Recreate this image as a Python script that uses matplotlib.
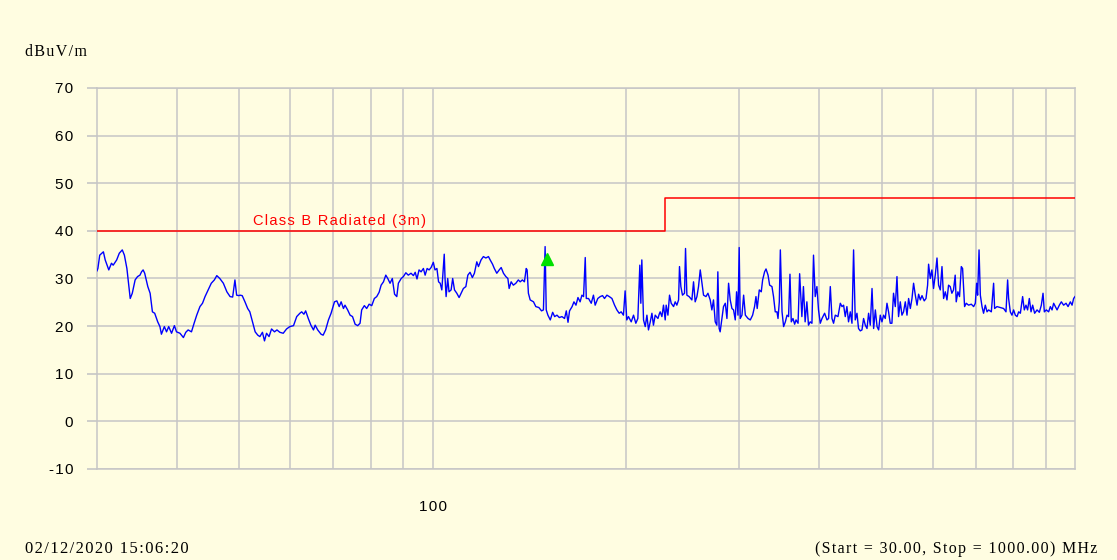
import matplotlib
matplotlib.use("Agg")
import matplotlib.pyplot as plt
from matplotlib.ticker import NullLocator

BG = "#FFFDE1"
GRID = "#C6C6C6"
SANS = ["Liberation Sans", "DejaVu Sans"]
SERIF = ["Liberation Serif", "DejaVu Serif"]

# scan trace (MHz, dBuV/m), in segments
freq_a = [30.0, 30.1, 30.3, 30.7, 30.9, 31.3, 31.6, 31.8, 32.2, 32.5,
          32.85, 33.1, 33.4, 33.8, 34.05, 34.4, 34.7, 35.0, 35.2, 35.4,
          35.6, 36.0, 36.3, 36.6, 36.9, 37.3, 37.6, 37.8, 38.2, 38.5,
          38.8, 39.2, 39.6, 39.9, 40.4, 40.9, 41.25, 41.6, 42.1, 42.5,
          42.9, 43.4, 43.8, 44.2, 44.7, 45.2, 45.7, 46.1, 46.6, 47.2,
          47.8, 48.35, 48.8, 49.2, 49.5, 49.9]
level_a = [31.6, 32.1, 34.9, 35.6, 33.9, 31.8, 33.2, 32.8, 33.9, 35.3,
           36.0, 34.9, 32.1, 25.8, 26.9, 29.7, 30.4, 30.7, 31.4, 31.8,
           31.1, 28.3, 26.9, 23.0, 22.7, 20.9, 19.9, 18.3, 19.9, 18.8,
           19.9, 18.5, 20.1, 18.8, 18.5, 17.6, 18.7, 19.2, 18.8, 20.6,
           22.3, 24.1, 24.8, 26.2, 27.6, 29.0, 29.7, 30.6, 30.0, 29.0,
           27.2, 26.2, 26.1, 29.7, 26.5, 26.4]

freq_b = [50.1, 50.5, 51.0, 51.5, 51.9, 52.4, 52.9, 53.4, 53.8, 54.3,
          54.7, 55.1, 55.6, 56.1, 56.7, 57.2, 57.8, 58.5, 59.2, 59.9,
          60.7, 61.4, 62.1, 62.5, 63.0, 63.4, 64.0, 64.6, 65.2, 65.6,
          66.2, 67.0, 67.5, 68.1, 68.8, 69.45, 70.3, 70.9, 71.5, 72.0,
          72.6, 73.0, 73.7, 74.35, 75.0, 75.7, 76.4, 77.05, 77.5, 78.25,
          78.9, 79.6, 80.35, 81.1, 81.8, 82.5]
level_b = [26.5, 26.4, 25.1, 23.7, 23.0, 20.9, 18.8, 18.1, 17.8, 18.7,
           16.9, 18.5, 17.8, 19.4, 18.8, 19.2, 18.7, 18.5, 19.4, 19.9,
           20.1, 22.0, 22.7, 23.0, 22.5, 23.2, 21.6, 20.2, 19.2, 20.2,
           19.2, 18.3, 18.1, 19.2, 21.3, 22.7, 25.1, 25.3, 24.1, 25.1,
           23.7, 24.4, 23.4, 22.3, 22.0, 20.4, 20.1, 20.6, 23.4, 24.3,
           23.7, 24.6, 24.3, 25.8, 26.2, 27.1]

freq_c = [83.1, 83.8, 84.5, 85.1, 85.8, 86.5, 87.2, 87.9, 88.4, 89.3,
          90.0, 90.8, 91.6, 92.5, 93.3, 93.9, 94.5, 95.2, 95.9, 96.7,
          97.3, 98.0, 98.7, 99.4, 100.2, 100.8, 101.5, 102.1, 102.7, 103.3,
          104.2, 104.5, 104.9, 105.5, 106.0, 106.8, 107.4, 108.1, 109.0, 109.9,
          110.7, 111.6, 112.6, 113.4, 114.3, 115.25, 116.1, 117.1, 117.8, 118.9,
          119.9, 120.95, 122.1, 122.85, 123.9, 124.7, 125.8, 126.9, 127.8, 128.85,
          129.95, 130.9, 131.5, 132.45, 133.5, 134.7, 135.9]
level_c = [28.6, 29.3, 30.7, 30.0, 29.0, 30.0, 26.7, 26.2, 29.0, 30.0,
           30.4, 31.2, 30.7, 31.1, 30.6, 31.3, 29.9, 31.8, 31.4, 32.1,
           30.7, 32.1, 31.8, 32.3, 33.4, 31.8, 32.1, 29.3, 29.0, 27.6,
           35.1, 30.0, 26.2, 30.0, 27.2, 27.6, 30.0, 27.6, 26.9, 26.0,
           26.9, 27.9, 28.3, 30.7, 31.3, 30.2, 31.1, 33.5, 32.5, 33.9,
           34.6, 34.3, 34.6, 33.9, 33.0, 32.1, 31.1, 31.8, 32.3, 31.1,
           30.4, 30.0, 27.9, 29.3, 28.6, 29.0, 29.7]

freq_d = [136.8, 137.9, 138.9, 139.8, 140.25, 140.9, 141.8, 143.5, 144.7, 146.3,
          147.7, 148.7, 149.6, 150.2, 151.1, 152.4, 153.7, 154.8, 156.1, 157.4,
          158.9, 160.4, 161.4, 162.4, 163.3, 164.8, 165.9, 167.1, 168.3, 169.6,
          170.7, 171.7, 172.75, 173.4, 174.8, 176.5, 177.9, 179.0, 180.7, 182.3,
          183.8, 185.1, 186.7, 188.3, 190.1, 191.9, 193.5, 195.1, 196.5, 198.1,
          199.3, 200.5, 201.7, 203.7, 205.4, 207.1, 208.6, 210.1, 210.85, 211.6,
          212.9, 214.2, 215.5, 216.7, 218.1, 219.4, 220.6, 222.0, 224.2, 225.2]
level_d = [29.3, 29.7, 29.3, 32.1, 31.8, 26.9, 25.5, 25.1, 24.1, 23.9,
           23.2, 23.4, 36.7, 23.4, 22.3, 21.3, 22.9, 22.0, 22.3, 21.8,
           22.0, 21.6, 23.2, 20.8, 23.2, 24.1, 25.1, 24.4, 26.0, 25.1,
           26.5, 26.2, 34.4, 25.8, 25.8, 24.8, 26.5, 24.4, 25.8, 26.2,
           26.4, 25.8, 26.5, 26.2, 25.8, 24.4, 23.4, 22.7, 23.0, 22.3,
           27.4, 21.3, 22.0, 20.9, 22.3, 20.6, 21.6, 32.8, 24.8, 33.9,
           21.3, 19.9, 22.3, 19.2, 20.9, 22.7, 20.2, 22.3, 21.6, 22.5]

freq_e = [226.0, 227.4, 228.7, 230.1, 230.9, 232.35, 233.7, 235.1, 237.1, 238.5,
          239.9, 241.4, 242.2, 243.4, 244.8, 246.6, 247.5, 248.7, 250.7, 253.2,
          254.7, 256.2, 257.8, 259.3, 260.9, 262.5, 264.0, 266.3, 268.2, 270.4,
          272.0, 273.6, 275.3, 276.9, 277.9, 279.2, 280.2, 282.0, 283.6, 285.4,
          287.1, 288.8, 290.5, 292.3, 294.0, 295.8, 297.2, 298.7, 300.0, 301.1,
          303.0, 304.8, 306.7, 309.7, 312.2, 314.8, 317.0, 318.6, 320.0, 322.4,
          324.7, 326.3, 328.6, 330.3, 332.7, 334.6, 337.4, 339.3, 341.4, 343.5,
          344.8, 346.4, 347.7, 349.8, 351.8, 354.0, 356.1, 358.1, 359.9, 361.6,
          363.8, 366.0, 367.8, 370.5, 372.6]
level_e = [23.0, 22.0, 24.4, 21.3, 24.4, 22.3, 26.5, 24.8, 24.1, 25.1,
           24.4, 25.5, 32.5, 28.3, 26.5, 26.9, 36.3, 26.5, 26.2, 25.5,
           29.3, 25.1, 26.2, 28.3, 31.8, 29.0, 26.5, 26.2, 26.9, 25.5,
           23.4, 25.5, 20.9, 20.2, 31.4, 19.5, 18.8, 21.6, 24.1, 24.8,
           21.6, 29.0, 25.5, 23.7, 23.4, 21.3, 27.2, 22.3, 36.5, 21.6,
           22.3, 26.5, 22.3, 21.6, 21.3, 22.3, 24.1, 26.2, 23.7, 27.6,
           27.2, 29.7, 31.4, 32.0, 30.7, 28.6, 28.3, 26.2, 23.0, 23.0,
           21.6, 25.1, 36.0, 23.0, 19.9, 20.9, 22.3, 22.0, 30.9, 20.9,
           21.6, 20.4, 21.3, 20.6, 31.0]

freq_f = [375.6, 377.7, 380.0, 382.4, 384.6, 387.0, 389.4, 391.6, 394.0, 396.4,
          398.7, 401.2, 403.7, 407.5, 411.0, 413.4, 415.9, 418.4, 420.8, 423.4,
          427.5, 431.1, 433.7, 436.2, 438.8, 441.4, 444.0, 446.8, 449.5, 452.1,
          454.8, 457.6, 460.2, 463.1, 465.9, 468.6, 471.5, 474.4, 477.1, 480.0,
          483.0, 485.8, 488.8, 491.8, 494.6, 497.5, 500.5, 503.5, 506.5, 509.6,
          512.5, 515.6, 518.7, 521.7, 525.0, 528.2, 531.2, 534.5, 537.7, 540.8,
          544.2, 547.5, 550.7, 554.1, 557.4, 560.6, 564.1, 567.6, 570.8, 574.3,
          577.8, 582.4, 586.1, 589.5, 591.6, 595.2, 598.7, 602.2, 605.9, 609.7,
          613.2]
level_f = [22.0, 28.3, 20.9, 25.1, 20.2, 20.9, 20.6, 34.9, 26.2, 28.3,
           23.4, 20.6, 21.6, 22.7, 21.3, 21.6, 28.3, 21.6, 20.6, 22.3,
           22.0, 24.8, 24.1, 24.4, 22.0, 24.1, 20.9, 23.0, 20.6, 36.0,
           21.3, 22.7, 19.5, 19.0, 19.2, 21.6, 20.2, 19.5, 22.7, 20.2,
           27.9, 19.5, 23.4, 19.9, 19.2, 22.3, 20.9, 22.3, 21.6, 24.8,
           23.0, 20.6, 20.6, 26.9, 24.1, 30.4, 22.0, 25.1, 22.3, 23.0,
           25.1, 22.3, 25.8, 23.7, 25.8, 29.0, 26.5, 24.4, 26.7, 25.5,
           26.4, 25.3, 25.8, 28.6, 33.0, 30.0, 31.8, 27.9, 30.7, 34.3,
           28.6]

freq_g = [616.9, 620.7, 624.3, 628.1, 631.9, 635.5, 639.3, 643.1, 646.9, 650.8,
          653.2, 657.2, 661.0, 665.2, 668.3, 673.1, 677.1, 682.8, 689.5, 695.3,
          699.5, 702.8, 705.3, 708.9, 712.2, 716.5, 720.5, 725.0, 729.5, 733.7,
          740.8, 746.9, 749.6, 756.0, 764.7, 774.2, 780.8, 785.4, 788.2, 793.0,
          797.7, 802.4, 807.4, 812.4, 817.1, 822.1, 828.8, 833.8, 838.8, 843.7,
          848.9, 854.2, 859.1, 865.3, 872.8, 880.0, 886.3, 891.7, 895.9, 902.3,
          909.8, 915.4, 921.0, 926.3, 932.0, 937.7, 945.4, 952.2, 960.0, 968.4,
          975.4, 983.5, 989.5, 995.1, 1000.0]
level_g = [27.6, 32.5, 25.8, 27.2, 25.5, 28.6, 28.3, 26.9, 27.6, 30.7,
           25.1, 27.2, 26.2, 32.5, 32.1, 24.1, 24.8, 24.4, 24.6, 24.1,
           24.8, 29.0, 26.5, 36.0, 26.5, 24.1, 22.7, 24.4, 23.0, 23.4,
           23.0, 29.0, 23.7, 24.1, 23.9, 23.7, 23.0, 29.7, 25.8, 23.0,
           22.3, 23.4, 22.3, 22.0, 23.0, 22.7, 26.2, 23.4, 24.4, 23.4,
           25.8, 23.0, 24.4, 22.7, 23.4, 22.9, 24.4, 26.9, 23.0, 23.4,
           23.0, 24.1, 23.4, 24.8, 24.1, 23.4, 24.4, 25.1, 24.4, 24.8,
           24.1, 25.1, 24.4, 25.8, 26.2]

# Class B radiated limit (3 m)
limit_freq = [30, 230, 230, 1000]
limit_level = [40, 40, 47, 47]

# peak marker
marker_freq = [150.5]
marker_level = [34.1]

y_ticks = [-10, 0, 10, 20, 30, 40, 50, 60, 70]
y_tick_labels = ["-10", "0", "10", "20", "30", "40", "50", "60", "70"]
x_grid = [40, 50, 60, 70, 80, 90, 100, 200, 300, 400, 500, 600, 700, 800, 900]
x_tick_labels = ["" if f != 100 else "100" for f in x_grid]

unit_label = "dBuV/m"
limit_label = "Class B Radiated (3m)"
date_label = "02/12/2020 15:06:20"
range_label = "(Start = 30.00, Stop = 1000.00) MHz"


def spaced(s):
    # the analyser prints its text with a little letter spacing
    return "\u200a".join(s)


freq = freq_a + freq_b + freq_c + freq_d + freq_e + freq_f + freq_g
level = level_a + level_b + level_c + level_d + level_e + level_f + level_g

fig = plt.figure(figsize=(11.17, 5.60), dpi=100, facecolor=BG)
ax = fig.add_axes([0.0868, 0.1625, 0.8756, 0.6804])
ax.set_facecolor(BG)

ax.plot(freq, level, color="#0000FF", lw=1.0, zorder=3)
ax.plot(limit_freq, limit_level, color="#FF0000", lw=1.1, zorder=3)
ax.plot(marker_freq, marker_level, marker="^", color="#00E000", ms=9,
        ls="none", zorder=4)

ax.set_xscale("log")
ax.set_xlim(30, 1000)
ax.set_ylim(-10, 70)

ax.set_xticks(x_grid)
ax.set_xticklabels([spaced(t) for t in x_tick_labels], family=SANS, fontsize=11)
ax.xaxis.set_minor_locator(NullLocator())
ax.tick_params(axis="x", length=0, pad=22)

ax.set_yticks(y_ticks)
ax.set_yticklabels([spaced(t) for t in y_tick_labels], family=SANS, fontsize=11)
ax.tick_params(axis="y", length=7, color=GRID, width=1.2, pad=10)

ax.grid(True, color=GRID, lw=1.1, zorder=0)
for s in ax.spines.values():
    s.set_color(GRID)
    s.set_linewidth(1.1)

ax.text(52.5, 40.7, spaced(limit_label), color="#FF0000",
        family=SANS, fontsize=10.5, va="bottom", ha="left")

fig.text(0.022, 0.907, spaced(unit_label), family=SERIF, fontsize=11.5, va="center")
fig.text(0.022, 0.019, spaced(date_label), family=SERIF, fontsize=12, va="center")
fig.text(0.982, 0.019, spaced(range_label), family=SERIF, fontsize=11.4,
         va="center", ha="right")

fig.savefig("out.png", dpi=100, facecolor=BG)
